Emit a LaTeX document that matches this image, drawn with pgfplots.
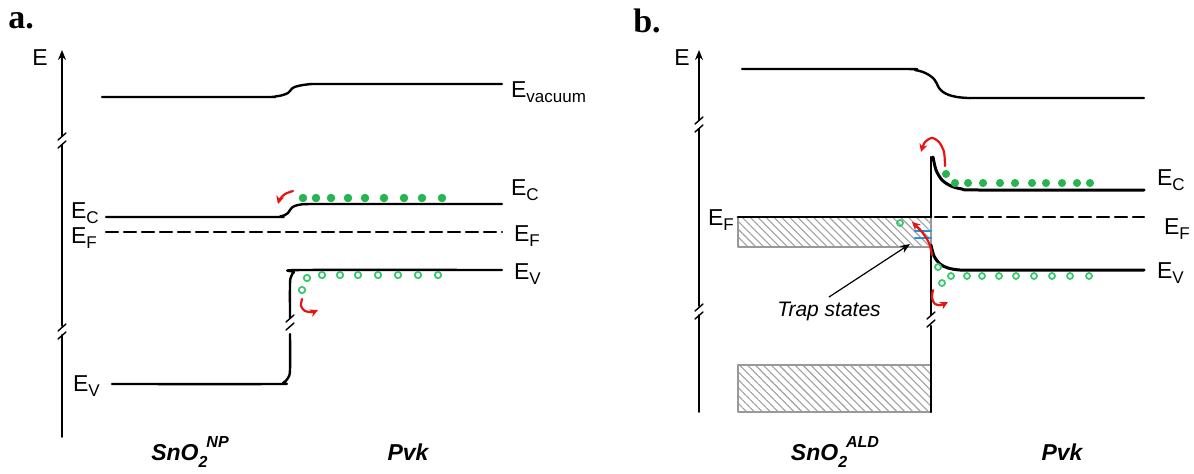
\documentclass[border=0pt]{standalone}
\usepackage{fontspec}
\setmainfont{Liberation Sans}
\newfontfamily\seriffont{Liberation Serif}
\usepackage{pgfplots}
\pgfplotsset{compat=1.18}
\usetikzlibrary{arrows.meta,patterns.meta}
\definecolor{egreen}{RGB}{40,180,80}
\definecolor{hgreen}{RGB}{60,200,110}
\definecolor{ared}{RGB}{230,20,20}
\definecolor{tblue}{RGB}{30,150,220}
\newcommand{\Es}[1]{E\raisebox{-0.45ex}{\fontsize{8.5}{9}\selectfont #1}}
\newcommand{\lab}{\fontsize{11.5}{13}\selectfont}
\newcommand{\sno}[1]{SnO\raisebox{-0.55ex}{\fontsize{8}{9}\selectfont 2}\kern-0.5pt\raisebox{1.05ex}{\fontsize{8}{9}\selectfont #1}}
\begin{document}
\begin{tikzpicture}
\begin{axis}[width=597pt,height=236.5pt,scale only axis,
  xmin=0,xmax=1194,ymin=0,ymax=473,y dir=reverse,
  axis lines=none,clip=false,
  every axis plot/.append style={line join=round,line cap=round}]
% ---------- panel a ----------
\node[font=\seriffont\bfseries\fontsize{17}{18}\selectfont] at (axis cs:21,21) {a.};
\node[font=\lab] at (axis cs:40,58) {E};
% energy axis
\addplot[black,line width=0.9pt,-{Stealth[length=5pt,width=4pt]}] coordinates {(62,136) (62,50)};
\addplot[black,line width=0.9pt] coordinates {(62,145) (62,326)};
\addplot[black,line width=0.9pt] coordinates {(62,335) (62,437)};
\addplot[black,line width=0.7pt] coordinates {(58,140) (66,133)};
\addplot[black,line width=0.7pt] coordinates {(58,148) (66,141)};
\addplot[black,line width=0.7pt] coordinates {(58,331) (66,324)};
\addplot[black,line width=0.7pt] coordinates {(58,339) (66,332)};
% vacuum
\addplot[black,line width=1.2pt,smooth,tension=0.45] coordinates {(102,97) (262,97) (275,96.5) (283,95) (288,93) (290,91) (292,88.5) (296,86.5) (303,85) (312,84) (322,84) (502,84)};
\node[font=\lab,anchor=west] at (axis cs:504,92) {E\raisebox{-0.45ex}{\fontsize{8.5}{9}\selectfont vacuum}};
% EC
\addplot[black,line width=1.2pt,smooth,tension=0.45] coordinates {(106,217) (272,217) (280,216.5) (285,215) (288,213) (290,210) (292,207.5) (296,205.5) (302,204.3) (310,204) (320,204) (502,204)};
\node[font=\lab,anchor=west] at (axis cs:504,190) {\Es{C}};
\node[font=\lab,anchor=west] at (axis cs:64,213) {\Es{C}};
% EF
\addplot[black,line width=1.2pt,dash pattern=on 6pt off 3pt] coordinates {(106,232) (502,232)};
\node[font=\lab,anchor=west] at (axis cs:507,236) {\Es{F}};
\node[font=\lab,anchor=west] at (axis cs:64,238) {\Es{F}};
% EV
\addplot[black,line width=1.2pt,smooth,tension=0.5] coordinates {(502,270) (302,270) (294,272) (291,277) (290,284) (290,318)};
\addplot[black,line width=1.2pt,smooth,tension=0.5] coordinates {(290,334) (290,370) (288,378) (283,383) (274,384) (112,384)};
\addplot[black,line width=0.7pt] coordinates {(286,322) (294,315)};
\addplot[black,line width=0.7pt] coordinates {(286,330) (294,323)};
\node[font=\lab,anchor=west] at (axis cs:507,274) {\Es{V}};
\node[font=\lab,anchor=west] at (axis cs:66,386) {\Es{V}};
% electrons
\addplot[only marks,mark=*,mark size=1.9pt,color=egreen] coordinates {(303,198) (316,198) (331,198) (348,198) (365,198) (384,198) (404,198) (422,198) (442,198)};
% holes
\addplot[only marks,mark=o,mark size=1.6pt,color=hgreen,line width=0.9pt] coordinates {(302,290) (307,278) (322,275) (340,275) (358,275) (378,275) (398,275) (418,275) (438,275)};
% red arrows
\addplot[ared,line width=1.1pt,smooth,-{Stealth[length=4pt,width=4pt]}] coordinates {(293,191) (285,194) (280,199) (278,204)};
\addplot[ared,line width=1.1pt,smooth,-{Stealth[length=4pt,width=4pt]}] coordinates {(302,299) (301,306) (305,311) (312,312) (318,310)};
% bottom labels
\node[font=\bfseries\itshape\fontsize{11.5}{13}\selectfont] at (axis cs:190,452) {\sno{NP}};
\node[font=\bfseries\itshape\fontsize{11.5}{13}\selectfont] at (axis cs:408,452) {Pvk};
% ---------- panel b ----------
\node[font=\seriffont\bfseries\fontsize{17}{18}\selectfont] at (axis cs:647,21) {b.};
\node[font=\lab] at (axis cs:682,58) {E};
\addplot[black,line width=0.9pt,-{Stealth[length=5pt,width=4pt]}] coordinates {(699,120) (699,50)};
\addplot[black,line width=0.9pt] coordinates {(699,129) (699,306)};
\addplot[black,line width=0.9pt] coordinates {(699,315) (699,412)};
\addplot[black,line width=0.7pt] coordinates {(695,124) (703,117)};
\addplot[black,line width=0.7pt] coordinates {(695,132) (703,125)};
\addplot[black,line width=0.7pt] coordinates {(695,311) (703,304)};
\addplot[black,line width=0.7pt] coordinates {(695,319) (703,312)};
% vacuum
\addplot[black,line width=1.2pt,smooth,tension=0.45] coordinates {(742,69) (905,69) (915,70) (923,72) (929,75) (934,79) (937,84) (939,88) (943,92) (949,95) (957,97) (968,98) (985,98) (1144,98)};
% hatched boxes
\addplot[draw=gray!80,line width=0.6pt,pattern={Lines[angle=-45,distance=2.8pt,line width=0.55pt]},pattern color=gray!75] coordinates {(738,217) (931,217) (931,247) (738,247)} --cycle;
\addplot[draw=gray!80,line width=0.6pt,pattern={Lines[angle=-45,distance=2.8pt,line width=0.55pt]},pattern color=gray!75] coordinates {(738,365) (931,365) (931,412) (738,412)} --cycle;
% EF
\addplot[black,line width=1.4pt] coordinates {(738,217) (931,217)};
\addplot[black,line width=1.2pt,dash pattern=on 6pt off 3pt] coordinates {(935,217) (1144,217)};
\node[font=\lab,anchor=west] at (axis cs:701,220) {\Es{F}};
\node[font=\lab,anchor=west] at (axis cs:1157,229) {\Es{F}};
% EC
\addplot[black,line width=1.2pt] coordinates {(931,157) (931,217)};
\addplot[black,line width=1.5pt,smooth,tension=0.5] coordinates {(933,157) (936,170) (942,180) (951,186) (962,189) (980,190) (1144,190)};
\node[font=\lab,anchor=west] at (axis cs:1150,180) {\Es{C}};
% EV
\addplot[black,line width=1.5pt,smooth,tension=0.5] coordinates {(931,245) (934,256) (940,264) (948,268) (960,270) (980,270) (1144,270)};
\addplot[black,line width=1.2pt] coordinates {(931,247) (931,315)};
\addplot[black,line width=1.2pt] coordinates {(931,326) (931,412)};
\addplot[black,line width=0.7pt] coordinates {(927,319) (935,312)};
\addplot[black,line width=0.7pt] coordinates {(927,327) (935,320)};
\node[font=\lab,anchor=west] at (axis cs:1150,273) {\Es{V}};
% trap states
\addplot[tblue,line width=1.1pt] coordinates {(915,231) (931,231)};
\addplot[tblue,line width=1.1pt] coordinates {(915,238) (931,238)};
\addplot[black,line width=0.6pt,-{Stealth[length=5pt,width=4pt]}] coordinates {(829,297) (910,244)};
\node[font=\itshape\fontsize{10.5}{12}\selectfont] at (axis cs:829,311) {Trap states};
% electrons
\addplot[only marks,mark=*,mark size=1.8pt,color=egreen] coordinates {(946,174) (955,183) (968,183) (983,183) (1000,183) (1015,183) (1032,183) (1046,183) (1062,183) (1077,183) (1090,183)};
% holes
\addplot[only marks,mark=o,mark size=1.5pt,color=hgreen,line width=0.9pt] coordinates {(900,223) (938,267) (942,283) (951,276) (967,276) (982,276) (999,276) (1016,276) (1034,276) (1052,276) (1070,276) (1089,276)};
% red arrows
\addplot[ared,line width=1.1pt,smooth,-{Stealth[length=4pt,width=4pt]}] coordinates {(945,166) (944,152) (939,142) (932,138) (925,142) (921,152)};
\addplot[ared,line width=1.1pt,smooth,-{Stealth[length=4pt,width=4pt]}] coordinates {(932,255) (929,243) (922,232) (912,222)};
\addplot[ared,line width=1.1pt,smooth,-{Stealth[length=4pt,width=4pt]}] coordinates {(933,290) (932,298) (935,304) (941,305) (948,302)};
% bottom labels
\node[font=\bfseries\itshape\fontsize{11.5}{13}\selectfont] at (axis cs:835,452) {\sno{ALD}};
\node[font=\bfseries\itshape\fontsize{11.5}{13}\selectfont] at (axis cs:1062,452) {Pvk};
\end{axis}
\pgfresetboundingbox
\path (current axis.south west) rectangle (current axis.north east);
\end{tikzpicture}
\end{document}
